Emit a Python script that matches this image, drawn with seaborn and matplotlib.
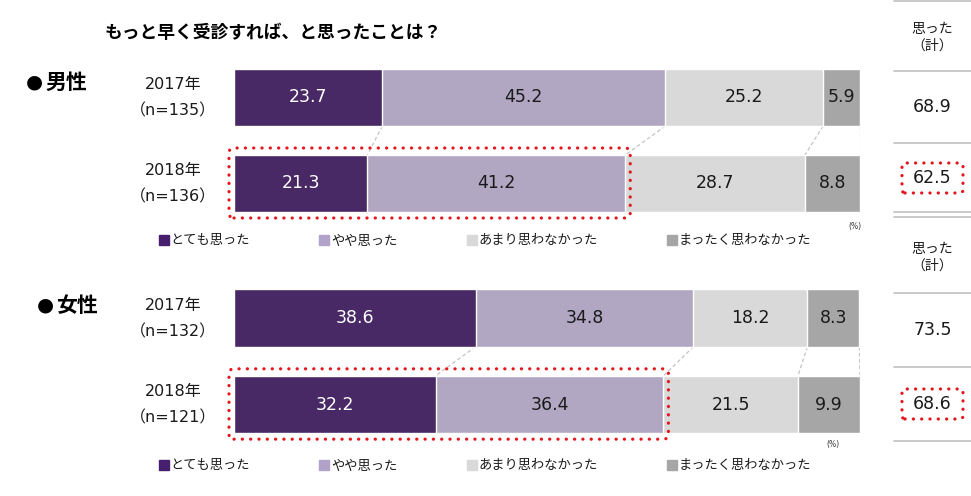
import numpy as np
import pandas as pd
import matplotlib
matplotlib.use("Agg")
import matplotlib.pyplot as plt
import seaborn as sns
from matplotlib.patches import FancyBboxPatch
from matplotlib.lines import Line2D
from matplotlib.transforms import IdentityTransform

# ---- data ----
levels = ["とても思った", "やや思った", "あまり思わなかった", "まったく思わなかった"]
colors = ["#481E6F", "#B0A2C8", "#D9D9D9", "#A6A6A6"]
rows = ["2017年", "2018年"]

men_n = [135, 136]
men_vals = [[23.7, 45.2, 25.2, 5.9],
            [21.3, 41.2, 28.7, 8.8]]
men_total = [68.9, 62.5]

women_n = [132, 121]
women_vals = [[38.6, 34.8, 18.2, 8.3],
              [32.2, 36.4, 21.5, 9.9]]
women_total = [73.5, 68.6]

title = "もっと早く受診すれば、と思ったことは？"
total_header = "思った\n（計）"

sns.set_style("white")
plt.rcParams["font.family"] = ["DejaVu Sans", "Noto Sans CJK JP"]
CJK = ["Noto Sans CJK JP", "DejaVu Sans"]

W, H = 971, 496
fig = plt.figure(figsize=(W / 100, H / 100), dpi=100)


def fx(px):
    return px / W


def fy(py):
    return 1 - py / H


def dotted_box(x0, y0, x1, y1, r=5):
    # box in display pixels (origin bottom-left)
    p = FancyBboxPatch((x0, y0), x1 - x0, y1 - y0,
                       boxstyle=f"round,pad=0,rounding_size={r}",
                       transform=IdentityTransform(), fill=False,
                       edgecolor="#E8141B", linewidth=2.3,
                       linestyle=(0, (0.05, 2.55)), capstyle="round")
    fig.add_artist(p)


BAR_H = 0.663


def panel(top_px, span_px, vals, ns, totals, label, label_x, label_y,
          legend_y, pct_x, pct_y, total_y, header_y):
    ax = fig.add_axes([fx(234), fy(top_px + span_px), fx(626), span_px / H])
    vals = np.array(vals)
    cum = vals.cumsum(axis=1)
    df = pd.DataFrame({
        "row": np.repeat(rows, len(levels)),
        "level": levels * len(rows),
        "cum": cum.ravel(),
        "val": vals.ravel(),
    })
    # draw stacked bars back to front
    for lvl, col in reversed(list(zip(levels, colors))):
        sub = df[df["level"] == lvl]
        sns.barplot(data=sub, x="cum", y="row", order=rows, orient="h",
                    color=col, width=BAR_H, edgecolor="white", linewidth=1,
                    errorbar=None, ax=ax)
    ax.set_xlim(0, 100)
    ax.set_ylim(1.5, -0.5)
    ax.axis("off")

    # value labels
    for i in range(len(rows)):
        for j in range(len(levels)):
            v = vals[i, j]
            ax.text(cum[i, j] - v / 2, i, f"{v:.1f}", ha="center", va="center",
                    fontsize=12.5, color="white" if j == 0 else "#1A1A1A")

    # connector lines between the two bars
    for c0, c1 in zip(cum[0], cum[1]):
        ax.plot([c0, c1], [BAR_H / 2, 1 - BAR_H / 2], color="#C4C4C4",
                lw=0.9, ls=(0, (3, 2)), zorder=0.5)

    # year labels
    for i, (yr, n) in enumerate(zip(rows, ns)):
        ax.text(-0.0975, i - 0.15, yr, transform=ax.get_yaxis_transform(),
                ha="center", va="center", fontsize=11.5, color="#1A1A1A")
        ax.text(-0.0975, i + 0.155, f"（n={n}）", transform=ax.get_yaxis_transform(),
                ha="center", va="center", fontsize=11.5, color="#1A1A1A")

    # red dotted box around the 2018 "思った" segments
    fig.canvas.draw()
    (x0, y0) = ax.transData.transform((0, 1 + BAR_H / 2))
    (x1, y1) = ax.transData.transform((cum[1, 1], 1 - BAR_H / 2))
    dotted_box(x0 - 5, y0 - 6, x1 + 5, y1 + 7)

    # panel label
    fig.text(fx(label_x), fy(label_y), "●", ha="left", va="center",
             fontsize=14, color="black")
    fig.text(fx(label_x + 19), fy(label_y), label, ha="left", va="center",
             fontsize=15, fontweight="bold", color="black", family=CJK)

    # legend
    handles = [Line2D([], [], ls="", marker="s", markersize=6.8, color=c)
               for c in colors]
    fig.legend(handles, levels, loc="center left", ncol=4, frameon=False,
               bbox_to_anchor=(fx(159), fy(legend_y)), borderaxespad=0,
               borderpad=0, handlelength=0.7, handletextpad=0.15,
               columnspacing=5.3, labelcolor="#1A1A1A",
               prop={"family": CJK, "size": 9.5})

    fig.text(fx(pct_x), fy(pct_y), "(%)", ha="center", va="center",
             fontsize=5.5, color="#333333")

    # right column totals
    fig.text(fx(932), fy(header_y), total_header, ha="center", va="center",
             fontsize=10, color="#1A1A1A", linespacing=1.25, family=CJK)
    for t, ty in zip(totals, total_y):
        fig.text(fx(932.5), fy(ty), f"{t:.1f}", ha="center", va="center",
                 fontsize=12.5, color="#1A1A1A")
    cy = H - total_y[1]
    dotted_box(902, cy - 15, 963, cy + 15, r=3)
    return ax


fig.text(fx(105), fy(33), title, ha="left", va="center", fontsize=12.8,
         fontweight="bold", color="black", family=CJK)

panel(54.5, 172, men_vals, men_n, men_total, "男性", 26, 82, 241, 855, 227,
      [107, 178], 37)
panel(274.75, 173, women_vals, women_n, women_total, "女性", 37, 305, 466, 833, 445,
      [330, 404], 257)

# right column separator lines
for ly in [1, 71, 142.7, 212, 217, 292.7, 366.7, 441]:
    fig.add_artist(Line2D([fx(894), fx(971)], [fy(ly), fy(ly)],
                          transform=fig.transFigure, color="#C0C0C0", lw=1.2))

fig.savefig("out.png", dpi=100)
